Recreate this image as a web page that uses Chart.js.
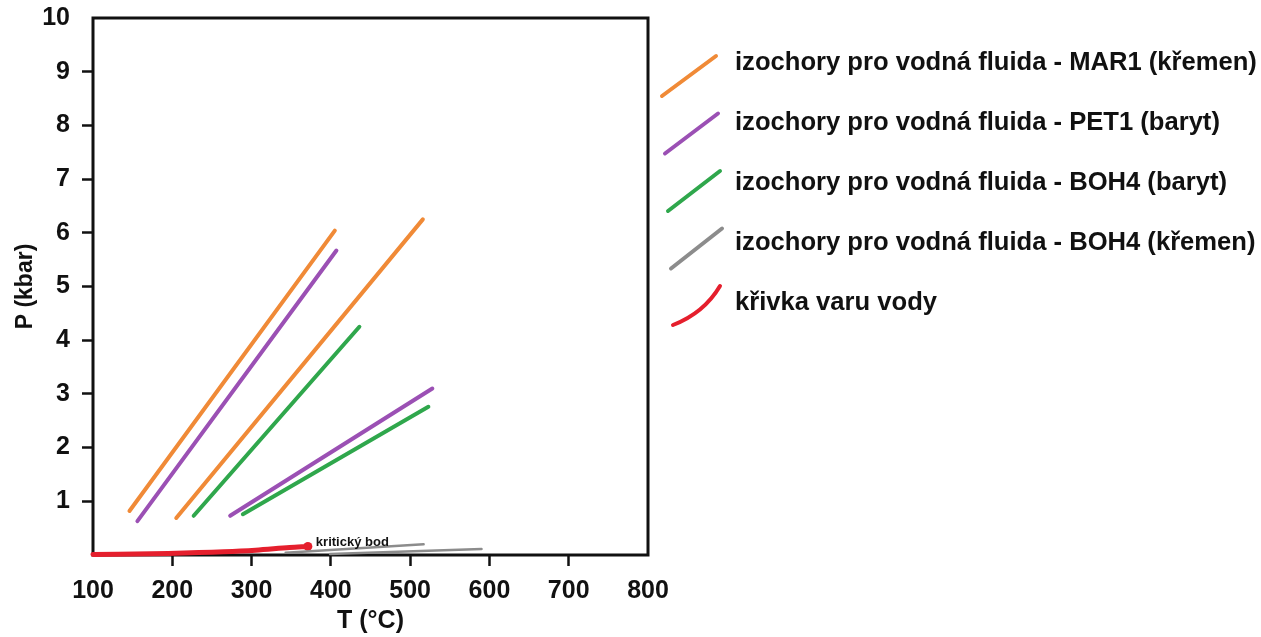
<!DOCTYPE html>
<html>
<head>
<meta charset="utf-8">
<script src="https://cdn.jsdelivr.net/npm/chart.js@4.4.1/dist/chart.umd.min.js"></script>
<style>
  html, body { margin: 0; padding: 0; background: #fff; }
  #wrap { width: 1261px; height: 637px; }
</style>
</head>
<body>
<div id="wrap"><canvas id="chart"></canvas></div>
<script>
// isochores, each series is a list of segments [[T, P], [T, P]]
const mar1Kremen = [[[146, 0.82], [405, 6.04]], [[205, 0.69], [516, 6.25]]];
const pet1Baryt  = [[[156, 0.63], [407, 5.67]], [[273, 0.73], [528, 3.10]]];
const boh4Baryt  = [[[227, 0.73], [436, 4.25]], [[289, 0.76], [523, 2.76]]];
const boh4Kremen = [[[343, 0.04], [517, 0.20]], [[399, 0.02], [590, 0.11]]];

// water boiling curve up to the critical point
const boilT = [100, 195, 265, 305, 348, 371];
const boilP = [0.01, 0.03, 0.06, 0.09, 0.14, 0.16];

const xTicks = [100, 200, 300, 400, 500, 600, 700, 800];
const yTicks = [1, 2, 3, 4, 5, 6, 7, 8, 9, 10];

const labels = [
  "izochory pro vodná fluida - MAR1 (křemen)",
  "izochory pro vodná fluida - PET1 (baryt)",
  "izochory pro vodná fluida - BOH4 (baryt)",
  "izochory pro vodná fluida - BOH4 (křemen)",
  "křivka varu vody"
];
const colors = ["#f08a37", "#9b50b4", "#2fa74c", "#8c8c8c", "#e51f2d"];
const widths = [4, 4, 4, 2.5, 5];

const FONT = "'Liberation Sans', Arial, sans-serif";

const datasets = [];
[mar1Kremen, pet1Baryt, boh4Baryt, boh4Kremen].forEach((series, i) => {
  series.forEach(seg => {
    datasets.push({
      data: seg.map(p => ({ x: p[0], y: p[1] })),
      borderColor: colors[i],
      borderWidth: widths[i],
      borderCapStyle: "round",
      pointRadius: 0,
      clip: false
    });
  });
});

const boilData = boilT.map((t, i) => ({ x: t, y: boilP[i] }));
datasets.push({
  data: boilData,
  borderColor: colors[4],
  backgroundColor: colors[4],
  borderWidth: widths[4],
  borderCapStyle: "round",
  cubicInterpolationMode: "monotone",
  pointRadius: ctx => ctx.dataIndex === boilData.length - 1 ? 4.5 : 0,
  pointBorderWidth: 0,
  clip: false
});

// black box round the plot area
const framePlugin = {
  id: "frame",
  beforeDatasetsDraw(chart) {
    const { ctx, chartArea: a } = chart;
    ctx.save();
    ctx.strokeStyle = "#111";
    ctx.lineWidth = 3;
    ctx.strokeRect(a.left, a.top, a.right - a.left, a.bottom - a.top);
    ctx.restore();
  }
};

// critical point note and the legend on the right
const notesPlugin = {
  id: "notes",
  afterDraw(chart) {
    const { ctx, chartArea: a, scales } = chart;
    const last = boilData[boilData.length - 1];
    ctx.save();
    ctx.fillStyle = "#111";
    ctx.font = "bold 13px " + FONT;
    ctx.textBaseline = "middle";
    ctx.textAlign = "left";
    ctx.fillText("kritický bod", scales.x.getPixelForValue(last.x) + 8, scales.y.getPixelForValue(last.y) - 4);

    ctx.lineCap = "round";
    labels.forEach((text, i) => {
      const y = 63 + i * 60;
      const x0 = a.right + 14, x1 = a.right + 68;
      ctx.strokeStyle = colors[i];
      ctx.lineWidth = 4;
      ctx.beginPath();
      if (i === 4) {
        ctx.moveTo(x0 + 11, y + 22);
        ctx.quadraticCurveTo(x1 - 12, y + 10, x1 + 4, y - 17);
      } else {
        ctx.moveTo(x0 + i * 3, y + 33 - i * 2.5);
        ctx.lineTo(x1 + i * 2, y - 7 - i * 2.5);
      }
      ctx.stroke();
      ctx.fillStyle = "#111";
      ctx.font = "bold 25.6px " + FONT;
      ctx.fillText(text, a.right + 87, y);
    });
    ctx.restore();
  }
};

new Chart(document.getElementById("chart"), {
  type: "line",
  data: { datasets },
  plugins: [framePlugin, notesPlugin],
  options: {
    responsive: true,
    maintainAspectRatio: false,
    animation: false,
    layout: { padding: { left: 0, top: 18, right: 613, bottom: 0 } },
    plugins: { legend: { display: false }, tooltip: { enabled: false } },
    scales: {
      x: {
        type: "linear",
        min: xTicks[0],
        max: xTicks[xTicks.length - 1],
        afterFit: s => { s.height = 82; s.paddingLeft = 0; s.paddingRight = 0; },
        afterBuildTicks: s => { s.ticks = xTicks.map(v => ({ value: v })); },
        border: { display: false },
        grid: {
          drawOnChartArea: false,
          tickLength: 11,
          tickWidth: 2.5,
          tickColor: c => (c.tick && (c.tick.value === 100 || c.tick.value === 800)) ? "rgba(0,0,0,0)" : "#111"
        },
        ticks: { color: "#111", padding: 10, maxRotation: 0, font: { family: FONT, size: 25, weight: "bold" } },
        title: { display: true, text: "T (°C)", color: "#111", padding: { top: 0, bottom: 1 }, font: { family: FONT, size: 25, weight: "bold" } }
      },
      y: {
        min: 0,
        max: 10,
        afterFit: s => { s.width = 93; s.paddingTop = 0; s.paddingBottom = 0; },
        afterBuildTicks: s => { s.ticks = [0].concat(yTicks).map(v => ({ value: v })); },
        border: { display: false },
        grid: {
          drawOnChartArea: false,
          tickLength: 11,
          tickWidth: 2.5,
          tickColor: c => (c.tick && (c.tick.value === 0 || c.tick.value === 10)) ? "rgba(0,0,0,0)" : "#111"
        },
        ticks: {
          color: "#111",
          padding: 12,
          font: { family: FONT, size: 25, weight: "bold" },
          callback: v => v === 0 ? "" : v
        },
        title: { display: true, text: "P (kbar)", color: "#111", padding: { top: 12, bottom: 0 }, font: { family: FONT, size: 23, weight: "bold" } }
      }
    }
  }
});
</script>
</body>
</html>
